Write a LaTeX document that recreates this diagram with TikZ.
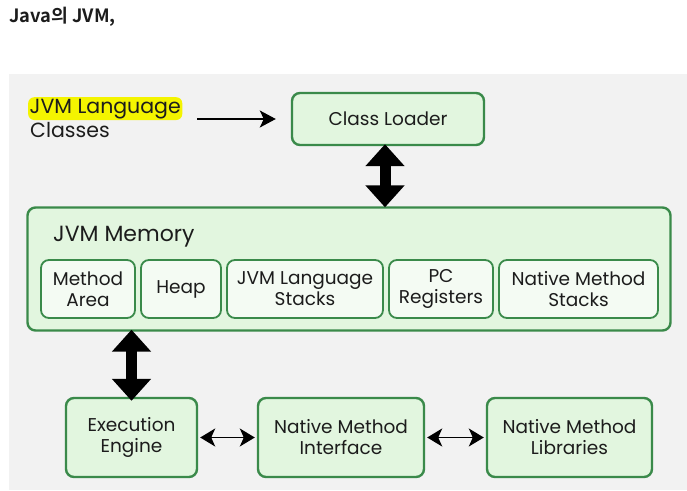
\documentclass[tikz,border=0pt]{standalone}
\usepackage{fontspec}
\setmainfont{Poppins}
\newfontfamily\krfont{Noto Sans CJK KR}[BoldFont={* Bold}]
\usetikzlibrary{arrows.meta}
\definecolor{boxgreen}{HTML}{E2F6DF}
\definecolor{boxedge}{HTML}{3A8A4A}
\definecolor{cellfill}{HTML}{F4FBF3}
\definecolor{panelgrey}{HTML}{F2F2F2}
\definecolor{hlyellow}{HTML}{F4F400}
\definecolor{inkblack}{HTML}{1C1C1C}

\begin{document}
\begin{tikzpicture}[x=1pt,y=-1pt,
  greenbox/.style={draw=boxedge,fill=boxgreen,line width=2.4pt,rounded corners=8pt,
    align=center,inner sep=0pt,text=inkblack,font=\fontsize{18.5}{21}\selectfont},
  cellbox/.style={greenbox,fill=cellfill,line width=1.8pt,minimum height=58pt},
  bigarrow/.style={line width=11pt,{Triangle[width=38pt,length=22pt]}-{Triangle[width=38pt,length=22pt]}},
  thinarrow/.style={line width=1.8pt,-{Stealth[length=16pt,width=17pt,inset=4pt]}},
  sidearrow/.style={line width=1.8pt,{Stealth[length=15pt,width=18pt,inset=4pt]}-{Stealth[length=15pt,width=18pt,inset=4pt]}},
  plaintext/.style={inner sep=0pt,text=inkblack,font=\fontsize{20.5}{23}\selectfont}]
\useasboundingbox (0,0) rectangle (687,490);
\fill[panelgrey] (9,74) rectangle (687,490);
% title
\node[anchor=base west,inner sep=0pt,text=inkblack] (title) at (9,22) {\krfont\bfseries\fontsize{18.3}{20}\selectfont Java의 JVM,};
% input classes
\node[plaintext,anchor=base west,fill=hlyellow,rounded corners=6pt,inner sep=1.5pt] (langtop) at (28,113) {JVM Language};
\node[plaintext,anchor=base west] (langbot) at (30,137) {Classes};
\node[greenbox,minimum width=192pt,minimum height=52pt] (loader) at (388,119) {Class Loader};
\draw[thinarrow] ([xshift=15pt]langtop.east |- loader.west) -- ([xshift=-15pt]loader.west);
% memory
\node[greenbox,minimum width=643pt,minimum height=123pt] (memory) at (349,269) {};
\node[anchor=west,inner sep=0pt,text=inkblack,font=\fontsize{22}{24}\selectfont] (memtitle) at (53,237) {JVM Memory};
\node[cellbox,minimum width=94pt] (method) at (88,289) {Method\\Area};
\node[cellbox,minimum width=80pt] (heap) at (181,289) {Heap};
\node[cellbox,minimum width=156pt] (stacks) at (305,289) {JVM Language\\Stacks};
\node[cellbox,minimum width=104pt] (pcreg) at (441,289) {PC\\Registers};
\node[cellbox,minimum width=159pt] (nstacks) at (578.5,289) {Native Method\\Stacks};
\draw[bigarrow] ([yshift=2pt]loader.south -| 385,0) -- ([yshift=-1pt]memory.north -| 385,0);
% bottom row
\node[greenbox,minimum width=131pt,minimum height=79pt] (engine) at (131.5,437.5) {Execution\\Engine};
\node[greenbox,minimum width=166pt,minimum height=79pt] (nmi) at (341,437.5) {Native Method\\Interface};
\node[greenbox,minimum width=165pt,minimum height=79pt] (nml) at (569.5,437.5) {Native Method\\Libraries};
\draw[bigarrow] ([yshift=2pt]memory.south -| engine.north) -- ([yshift=-4pt]engine.north);
\draw[sidearrow] ([xshift=2pt]engine.east) -- ([xshift=-2pt]nmi.west);
\draw[sidearrow] ([xshift=2pt]nmi.east) -- ([xshift=-2pt]nml.west);
\end{tikzpicture}
\end{document}
